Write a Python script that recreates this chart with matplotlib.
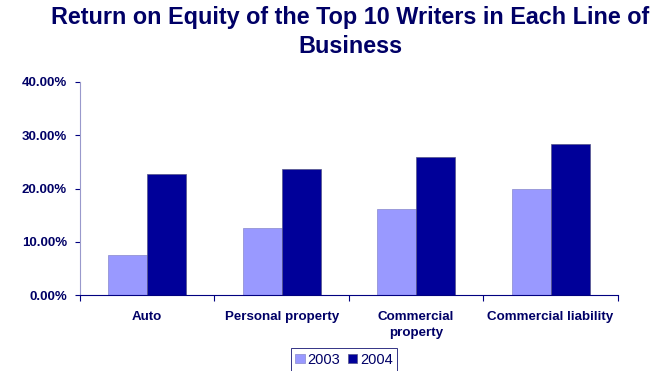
import matplotlib.pyplot as plt
import numpy as np

plt.rcParams['font.family'] = ['Liberation Sans', 'DejaVu Sans']

categories = ["Auto", "Personal property", "Commercial\nproperty", "Commercial liability"]
roe_2003 = [7.6, 12.6, 16.2, 19.9]
roe_2004 = [22.8, 23.6, 25.9, 28.4]
yticks = [0, 10, 20, 30, 40]

navy = "#000066"

fig = plt.figure(figsize=(6.64, 3.71), dpi=100)
ax = fig.add_axes([0.1205, 0.204, 0.810, 0.575])

x = np.arange(len(categories)) + 0.5
w = 0.29
ax.bar(x - w / 2, roe_2003, w, color="#9999FF", edgecolor="#8888cc", linewidth=0.5, label="2003")
ax.bar(x + w / 2, roe_2004, w, color="#000099", edgecolor="#555588", linewidth=0.5, label="2004")

ax.set_xlim(0, len(categories))
ax.set_ylim(0, 40)
ax.set_yticks(yticks)
ax.set_yticklabels(["%.2f%%" % v for v in yticks], fontsize=9.5, fontweight="bold", color=navy)
ax.set_xticks(np.arange(len(categories) + 1))
ax.set_xticklabels([])
ax.set_xticks(x, minor=True)
ax.set_xticklabels(categories, minor=True, fontsize=9.6, fontweight="bold", color=navy,
                   linespacing=1.45)
ax.tick_params(axis="x", which="minor", length=0, pad=11)
ax.tick_params(axis="x", which="major", length=4, color="#000080", direction="out")
ax.tick_params(axis="y", length=3.6, color="#000080", direction="out", pad=5.8)

for s in ["top", "right"]:
    ax.spines[s].set_visible(False)
ax.spines["left"].set_color("#9999cc")
ax.spines["bottom"].set_color("#000080")

fig.text(0.5275, 0.985, "Return on Equity of the Top 10 Writers in Each Line of\nBusiness",
         ha="center", va="top", fontsize=16.8, fontweight="bold", color=navy, linespacing=1.38)

leg = fig.legend(loc="lower center", bbox_to_anchor=(0.518, -0.02), ncol=2, fontsize=10.5,
                 frameon=True, fancybox=False, edgecolor=navy, handlelength=0.65,
                 handleheight=0.65, handletextpad=0.2, columnspacing=0.5, borderpad=0.3)
leg.get_frame().set_linewidth(0.7)
for t in leg.get_texts():
    t.set_color(navy)

fig.savefig("out.png", dpi=100)
